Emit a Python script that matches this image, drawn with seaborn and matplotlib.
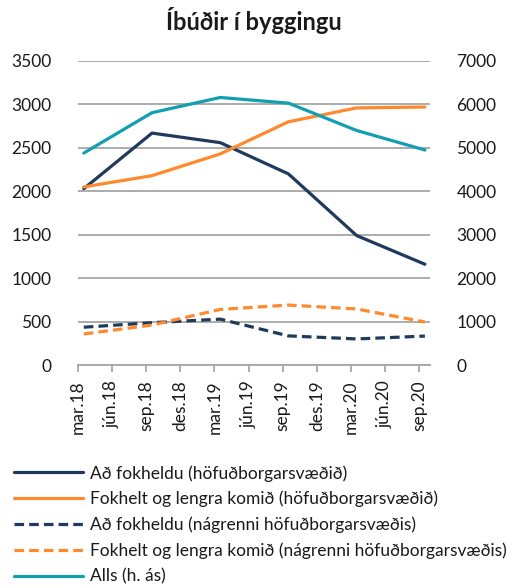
import matplotlib
matplotlib.use("Agg")
import matplotlib.pyplot as plt
import seaborn as sns
import pandas as pd

sns.set_theme(style="white")
plt.rcParams['font.family'] = ['Lato', 'DejaVu Sans']

# ---- data ----
tick_labels = ["mar.18", "jún.18", "sep.18", "des.18", "mar.19", "jún.19",
               "sep.19", "des.19", "mar.20", "jún.20", "sep.20"]
data_periods = ["mar.18", "sep.18", "mar.19", "sep.19", "mar.20", "sep.20"]
fokheldu_hofud = [2030, 2670, 2560, 2200, 1490, 1160]
fokhelt_hofud = [2050, 2180, 2430, 2800, 2960, 2970]
fokheldu_nagr = [435, 487, 528, 335, 300, 333]
fokhelt_nagr = [357, 460, 640, 690, 645, 495]
alls = [4880, 5810, 6160, 6030, 5400, 4950]

names = ["Að fokheldu (höfuðborgarsvæðið)",
         "Fokhelt og lengra komið (höfuðborgarsvæðið)",
         "Að fokheldu (nágrenni höfuðborgarsvæðis)",
         "Fokhelt og lengra komið (nágrenni höfuðborgarsvæðis)",
         "Alls (h. ás)"]

NAVY = "#1f3a5c"
ORANGE = "#ff8a2e"
TEAL = "#129fb0"
GRID = "#a6a6a6"
TXT = "#1a1a1a"
FS = 12.5

# data dated at end of month -> small offset past the tick (month start)
offset = 0.17
xpos = [tick_labels.index(p) + offset for p in data_periods]

fig = plt.figure(figsize=(5.21, 5.88), dpi=100)
ax = fig.add_axes([78/521, 1-365/588, (430-78)/521, (365-61)/588])
ax2 = ax.twinx()

dash = (0, (3, 1.6))
lw = 2.3
sns.lineplot(x=xpos, y=fokheldu_hofud, ax=ax, color=NAVY, lw=lw, label=names[0])
sns.lineplot(x=xpos, y=fokhelt_hofud, ax=ax, color=ORANGE, lw=lw, label=names[1])
sns.lineplot(x=xpos, y=fokheldu_nagr, ax=ax, color=NAVY, lw=lw, linestyle=dash, label=names[2])
sns.lineplot(x=xpos, y=fokhelt_nagr, ax=ax, color=ORANGE, lw=lw, linestyle=dash, label=names[3])
sns.lineplot(x=xpos, y=alls, ax=ax2, color=TEAL, lw=lw, label=names[4])

h1, l1 = ax.get_legend_handles_labels()
h2, l2 = ax2.get_legend_handles_labels()
ax.get_legend().remove()
ax2.get_legend().remove()

ax.set_ylim(0, 3500)
ax.set_yticks(range(0, 3501, 500))
ax2.set_ylim(0, 7000)
ax2.set_yticks(range(0, 7001, 1000))
ax.set_xlim(0, 10.32)
ax.set_xticks(range(len(tick_labels)))
ax.set_xticklabels(tick_labels, rotation=90)

ax.grid(axis="y", color=GRID, lw=1.3)
ax.set_axisbelow(True)
for a in (ax, ax2):
    for s in ("left", "right", "top", "bottom"):
        a.spines[s].set_visible(False)
ax.spines["bottom"].set_visible(True)
ax.spines["bottom"].set_color(GRID)
ax.spines["bottom"].set_linewidth(1.3)

ax.tick_params(axis="x", bottom=True, length=5, width=1.3, color=GRID,
               labelsize=FS, pad=6, labelcolor=TXT)
ax.tick_params(axis="y", left=False, labelsize=FS, pad=13, labelcolor=TXT)
ax2.tick_params(axis="y", right=False, labelsize=FS, pad=13, labelcolor=TXT)
ax.set_xlabel("")
ax.set_ylabel("")
ax2.set_ylabel("")

fig.text(254/521, 1-21/588, "Íbúðir í byggingu", ha="center", va="center",
         fontsize=17, fontweight="bold", color=TXT)

fig.legend(h1 + h2, l1 + l2, loc="upper left", bbox_to_anchor=(7/521, 1-458/588),
           frameon=False, fontsize=FS, handlelength=4.0, handletextpad=0.4,
           labelspacing=0.54, borderaxespad=0, labelcolor=TXT)

fig.savefig("out.png", dpi=100)
